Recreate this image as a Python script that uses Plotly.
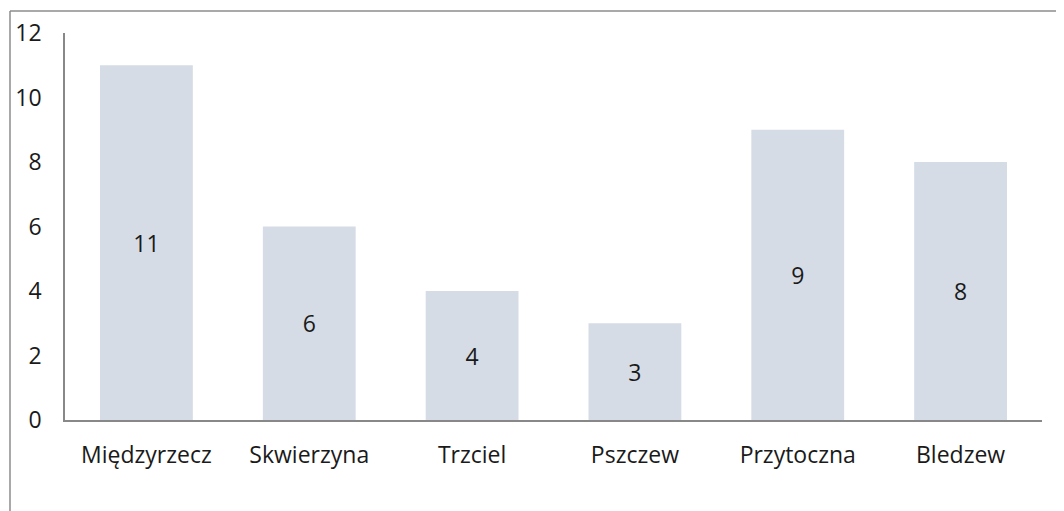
import plotly.graph_objects as go

categories = ["Międzyrzecz", "Skwierzyna", "Trzciel", "Pszczew", "Przytoczna", "Bledzew"]
values = [11, 6, 4, 3, 9, 8]
y_ticks = [0, 2, 4, 6, 8, 10, 12]

FONT = "Open Sans"

fig = go.Figure(go.Bar(
    x=categories, y=values,
    marker=dict(color="#D5DCE6", line=dict(width=0)),
    text=[str(v) for v in values],
    textposition="inside", insidetextanchor="middle",
    textfont=dict(family=FONT, size=23, color="#1a1a1a"),
    width=0.57,
))

fig.update_layout(
    width=1064, height=511,
    margin=dict(l=57, r=30, t=25, b=99),
    paper_bgcolor="white", plot_bgcolor="white",
    showlegend=False,
    font=dict(family=FONT, size=23, color="#1a1a1a"),
    xaxis=dict(showline=True, linecolor="#888888", linewidth=1.5, ticks="",
               showgrid=False, ticklabelstandoff=14, automargin=False),
    yaxis=dict(range=[0, 12], tickvals=y_ticks, showline=True, linecolor="#888888",
               linewidth=1.5, ticks="", showgrid=False, zeroline=False,
               ticklabelstandoff=17, automargin=False),
    shapes=[
        dict(type="line", xref="paper", yref="paper", x0=-0.0563, x1=-0.0563, y0=-0.3, y1=1.0568,
             line=dict(color="#8c8c8c", width=1.5)),
        dict(type="line", xref="paper", yref="paper", x0=-0.0563, x1=1.05, y0=1.0568, y1=1.0568,
             line=dict(color="#8c8c8c", width=1.5)),
    ],
)

fig.write_html("out.html")
